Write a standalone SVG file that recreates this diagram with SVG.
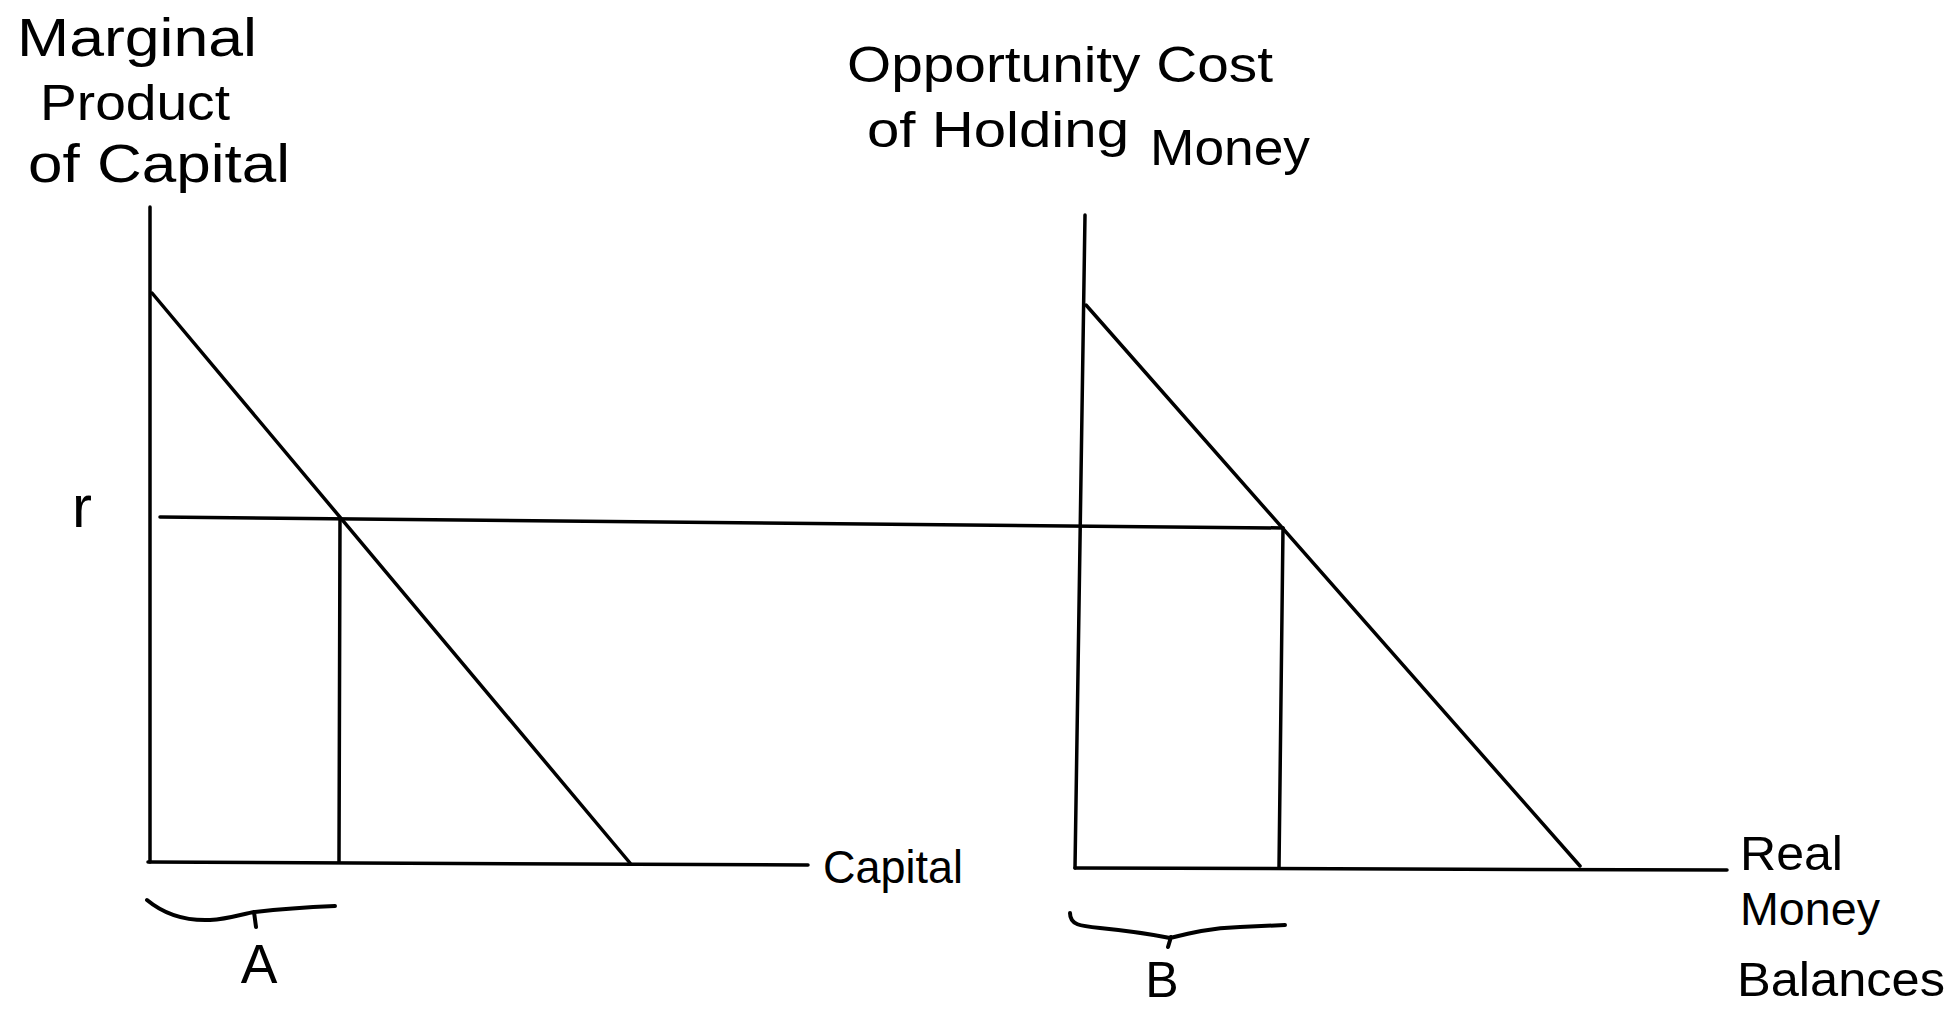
<svg xmlns="http://www.w3.org/2000/svg" width="1955" height="1010" viewBox="0 0 1955 1010">
<style>
.ln{fill:none;stroke:#000;stroke-width:3.5;stroke-linecap:round;stroke-linejoin:round}
.br{fill:none;stroke:#000;stroke-width:4;stroke-linecap:round;stroke-linejoin:round}
.t{font-family:"Liberation Sans","DejaVu Sans",sans-serif;fill:#000}
</style>
<rect width="1955" height="1010" fill="#fff"/>
<g id="left-chart">
<path class="ln" d="M150,207 L150,862"/>
<path class="ln" d="M148,862 L808,865"/>
<path class="ln" d="M152,293 L630,863"/>
<path class="ln" d="M340,519 L339,862"/>
<path class="br" d="M147,900 C165,915 185,921 210,920 C230,919 245,913 255,912 C280,909 310,907 335,906 M254,912 L256,927"/>
<text class="t" x="17" y="56" font-size="54" textLength="240" lengthAdjust="spacingAndGlyphs">Marginal</text>
<text class="t" x="40" y="120" font-size="50" textLength="190" lengthAdjust="spacingAndGlyphs">Product</text>
<text class="t" x="28" y="182" font-size="54" textLength="262" lengthAdjust="spacingAndGlyphs">of Capital</text>
<text class="t" x="72" y="527" font-size="60">r</text>
<text class="t" x="823" y="883" font-size="46" textLength="140" lengthAdjust="spacingAndGlyphs">Capital</text>
<text class="t" x="259" y="983" font-size="55" text-anchor="middle">A</text>
</g>
<g id="right-chart">
<path class="ln" d="M1085,215 L1075,868"/>
<path class="ln" d="M1075,868 L1727,870"/>
<path class="ln" d="M1086,305 L1580,866"/>
<path class="ln" d="M1283,528 L1279,868"/>
<path class="br" d="M1070,913 C1070,925 1080,926 1100,928 C1130,931 1155,935 1170,938 C1190,933 1210,928 1240,927 L1285,925 M1171,937 L1168,947"/>
<text class="t" x="847" y="82" font-size="50" textLength="426" lengthAdjust="spacingAndGlyphs">Opportunity Cost</text>
<text class="t" x="867" y="147" font-size="50" textLength="262" lengthAdjust="spacingAndGlyphs">of Holding</text>
<text class="t" x="1150" y="165" font-size="50" textLength="160" lengthAdjust="spacingAndGlyphs">Money</text>
<text class="t" x="1740" y="870" font-size="48" textLength="103" lengthAdjust="spacingAndGlyphs">Real</text>
<text class="t" x="1740" y="925" font-size="46" textLength="140" lengthAdjust="spacingAndGlyphs">Money</text>
<text class="t" x="1737" y="996" font-size="48" textLength="208" lengthAdjust="spacingAndGlyphs">Balances</text>
<text class="t" x="1162" y="997" font-size="50" text-anchor="middle">B</text>
</g>
<g id="connectors">
<path class="ln" d="M160,517 L1283,528"/>
</g>
</svg>
